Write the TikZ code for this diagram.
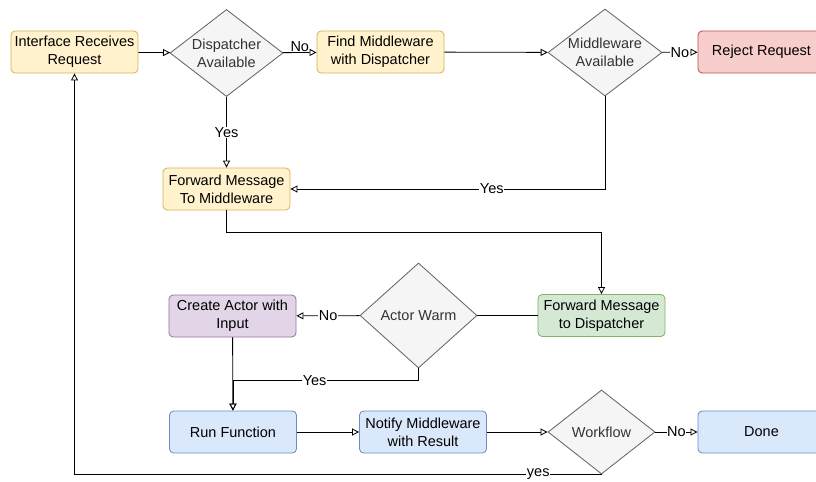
\documentclass[tikz,border=0pt]{standalone}
\usepackage{fontspec}
\setmainfont{Liberation Sans}
\usepackage{tikz}
\usetikzlibrary{arrows.meta,shapes.geometric}
\definecolor{YellowFill}{HTML}{FFF2CC}
\definecolor{YellowLine}{HTML}{D6B656}
\definecolor{GrayFill}{HTML}{F5F5F5}
\definecolor{GrayLine}{HTML}{666666}
\definecolor{GrayText}{HTML}{333333}
\definecolor{RedFill}{HTML}{F8CECC}
\definecolor{RedLine}{HTML}{B85450}
\definecolor{PurpleFill}{HTML}{E1D5E7}
\definecolor{PurpleLine}{HTML}{9673A6}
\definecolor{GreenFill}{HTML}{D5E8D4}
\definecolor{GreenLine}{HTML}{82B366}
\definecolor{BlueFill}{HTML}{DAE8FC}
\definecolor{BlueLine}{HTML}{6C8EBF}

\begin{document}
\begin{tikzpicture}[x=0.025cm,y=-0.025cm,>={Triangle[open,length=5pt,width=5pt]},
  font=\fontsize{10.3}{12.8}\selectfont,
  box/.style={draw,rounded corners=3pt,line width=0.6pt,align=center,minimum width=3.175cm,minimum height=1.05cm,inner sep=1pt},
  yellowbox/.style={box,fill=YellowFill,draw=YellowLine},
  redbox/.style={box,fill=RedFill,draw=RedLine},
  purplebox/.style={box,fill=PurpleFill,draw=PurpleLine},
  greenbox/.style={box,fill=GreenFill,draw=GreenLine},
  bluebox/.style={box,fill=BlueFill,draw=BlueLine},
  decision/.style={diamond,shape aspect=1.3,draw=GrayLine,fill=GrayFill,text=GrayText,line width=0.6pt,align=center,inner sep=-1pt},
  edge/.style={line width=0.6pt},
  lbl/.style={fill=white,inner sep=0.5pt}]
  \useasboundingbox (0,0) rectangle (816,481);
  \node[yellowbox] (irq) at (74.5,52) {Interface Receives\\Request};
  \node[decision,minimum width=2.825cm,minimum height=2.175cm] (dav) at (226.5,53) {Dispatcher\\Available};
  \node[yellowbox] (fmd) at (380.5,52) {Find Middleware\\with Dispatcher};
  \node[decision,minimum width=2.85cm,minimum height=2.175cm] (mav) at (605,52.5) {Middleware\\Available};
  \node[redbox] (rej) at (761.5,52) {Reject Request};
  \node[yellowbox] (fmm) at (226.5,189) {Forward Message\\To Middleware};
  \node[purplebox] (cai) at (232.5,316) {Create Actor with\\Input};
  \node[decision,minimum width=2.925cm,minimum height=2.625cm] (awm) at (418.5,315.5) {Actor Warm};
  \node[greenbox] (fdp) at (601.5,315.5) {Forward Message\\to Dispatcher};
  \node[bluebox] (rfn) at (233,432) {Run Function};
  \node[bluebox] (nmr) at (423,432) {Notify Middleware\\with Result};
  \node[decision,minimum width=2.675cm,minimum height=2.1cm] (wfl) at (601.5,432) {Workflow};
  \node[bluebox] (don) at (761.5,432) {Done};
  \draw[->,edge] (irq) -- (dav);
  \draw[->,edge] (dav) -- node[above,inner sep=0.5pt] {No} (fmd);
  \draw[->,edge] (fmd) -- (mav);
  \draw[->,edge] (mav) -- node[lbl] {No} (rej);
  \draw[->,edge] (dav) -- node[lbl] {Yes} (fmm);
  \draw[->,edge] (mav.south) |- node[lbl,pos=0.68] {Yes} (fmm.east);
  \draw[->,edge] (fmm.south) -- ++(0,22) -| (fdp.north);
  \draw[edge] (fdp) -- (awm);
  \draw[->,edge] (awm) -- node[lbl] {No} (cai);
  \draw[->,edge] (cai) -- (rfn);
  \draw[->,edge] (awm.south) -- ++(0,12) -| node[lbl,pos=0.28] {Yes} (rfn.north);
  \draw[->,edge] (rfn) -- (nmr);
  \draw[->,edge] (nmr) -- (wfl);
  \draw[->,edge] (wfl) -- node[lbl] {No} (don);
  \draw[->,edge] (wfl.south) -| node[lbl,pos=0.06] {yes} (irq.south);
\end{tikzpicture}
\end{document}
